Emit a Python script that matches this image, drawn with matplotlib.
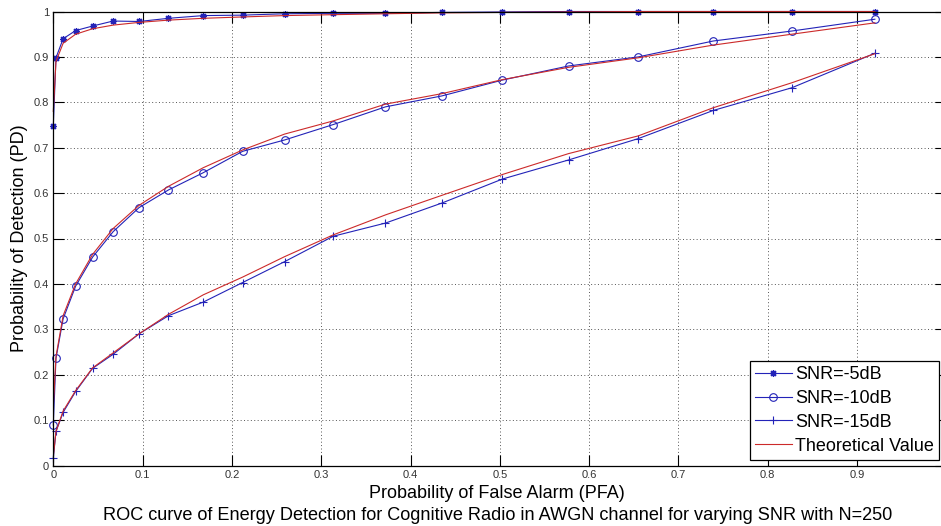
import matplotlib
matplotlib.use('Agg')
import matplotlib.pyplot as plt

# PFA sample points shared by all curves
pfa = [0.0, 0.003, 0.011, 0.025, 0.044, 0.067, 0.096, 0.129, 0.168, 0.212,
       0.259, 0.3135, 0.372, 0.435, 0.503, 0.577, 0.655, 0.739, 0.827, 0.920]

# simulated detection probability
pd_5 = [0.748, 0.898, 0.940, 0.958, 0.968, 0.979, 0.978, 0.985, 0.991, 0.992,
        0.995, 0.996, 0.996, 0.998, 0.999, 1.0, 1.0, 1.0, 1.0, 1.0]
pd_10 = [0.089, 0.236, 0.323, 0.395, 0.459, 0.515, 0.568, 0.607, 0.645, 0.692,
         0.717, 0.751, 0.790, 0.814, 0.849, 0.880, 0.900, 0.935, 0.957, 0.983]
pd_15 = [0.016, 0.075, 0.117, 0.163, 0.214, 0.245, 0.290, 0.330, 0.360, 0.403,
         0.449, 0.505, 0.534, 0.578, 0.631, 0.673, 0.720, 0.782, 0.832, 0.908]

# theoretical detection probability
th_5 = [0.78, 0.89, 0.930, 0.950, 0.962, 0.970, 0.976, 0.981, 0.985, 0.988,
        0.991, 0.993, 0.995, 0.997, 0.998, 0.999, 1.0, 1.0, 1.0, 1.0]
th_10 = [0.13, 0.24, 0.33, 0.40, 0.465, 0.522, 0.573, 0.615, 0.656, 0.695,
         0.730, 0.759, 0.796, 0.819, 0.850, 0.877, 0.898, 0.926, 0.950, 0.975]
th_15 = [0.02, 0.075, 0.12, 0.165, 0.215, 0.248, 0.290, 0.333, 0.376, 0.415,
         0.460, 0.508, 0.552, 0.595, 0.641, 0.687, 0.726, 0.788, 0.843, 0.907]

labels = ['SNR=-5dB', 'SNR=-10dB', 'SNR=-15dB', 'Theoretical Value']
xticks = [0, 0.1, 0.2, 0.3, 0.4, 0.5, 0.6, 0.7, 0.8, 0.9]
yticks = [0, 0.1, 0.2, 0.3, 0.4, 0.5, 0.6, 0.7, 0.8, 0.9, 1.0]
xtick_labels = ['0', '0.1', '0.2', '0.3', '0.4', '0.5', '0.6', '0.7', '0.8', '0.9']
ytick_labels = ['0', '0.1', '0.2', '0.3', '0.4', '0.5', '0.6', '0.7', '0.8', '0.9', '1']

plt.rcParams['font.family'] = ['Liberation Sans', 'DejaVu Sans']

blue = '#2323b8'
red = '#cc2a2a'

W, H = 941, 526
fig = plt.figure(figsize=(W / 100, H / 100), dpi=100)
# axes runs a little past the right edge (x=1 is off the canvas)
ax = fig.add_axes([53.3 / W, 1 - 465.5 / H, 893 / W, 454 / H])

star = (8, 2, 0)
h1, = ax.plot(pfa, pd_5, color=blue, lw=0.8, marker=star, ms=5, mew=0.9, clip_on=False)
h2, = ax.plot(pfa, pd_10, color=blue, lw=0.8, marker='o', ms=5.5, mfc='none', mew=0.8, clip_on=False)
h3, = ax.plot(pfa, pd_15, color=blue, lw=0.8, marker='+', ms=6, mew=0.8, clip_on=False)
h4, = ax.plot(pfa, th_5, color=red, lw=0.8, clip_on=False)
ax.plot(pfa, th_10, color=red, lw=0.8)
ax.plot(pfa, th_15, color=red, lw=0.8)

ax.set_xlim(0, 1)
ax.set_ylim(0, 1)
ax.set_xticks(xticks)
ax.set_xticklabels(xtick_labels)
ax.set_yticks(yticks)
ax.set_yticklabels(ytick_labels)
ax.tick_params(direction='in', length=8, width=0.8, labelsize=8, colors='black',
               top=True, right=True, pad=3)
ax.tick_params(axis='both', labelcolor='#333333')
ax.grid(True, color='#555555', linestyle=(0, (1, 2.5)), lw=0.7)
for s in ax.spines.values():
    s.set_linewidth(0.9)

leg = fig.legend([h1, h2, h3, h4], labels, loc='lower left',
                 bbox_to_anchor=(750 / W, 1 - 460 / H), bbox_transform=fig.transFigure,
                 fontsize=13, frameon=True, fancybox=False, edgecolor='black',
                 framealpha=1, borderpad=0.3, labelspacing=0.38, handlelength=2.0,
                 handletextpad=0.2, borderaxespad=0)
leg.get_frame().set_linewidth(0.9)

fig.text(497 / W, 1 - 493 / H, 'Probability of False Alarm (PFA)', ha='center',
         va='center', fontsize=13)
fig.text(498 / W, 1 - 515 / H,
         'ROC curve of Energy Detection for Cognitive Radio in AWGN channel for varying SNR with N=250',
         ha='center', va='center', fontsize=13.1)
fig.text(20 / W, 1 - 238 / H, 'Probability of Detection (PD)', rotation=90,
         ha='center', va='center', fontsize=13)

fig.savefig('out.png', dpi=100)
